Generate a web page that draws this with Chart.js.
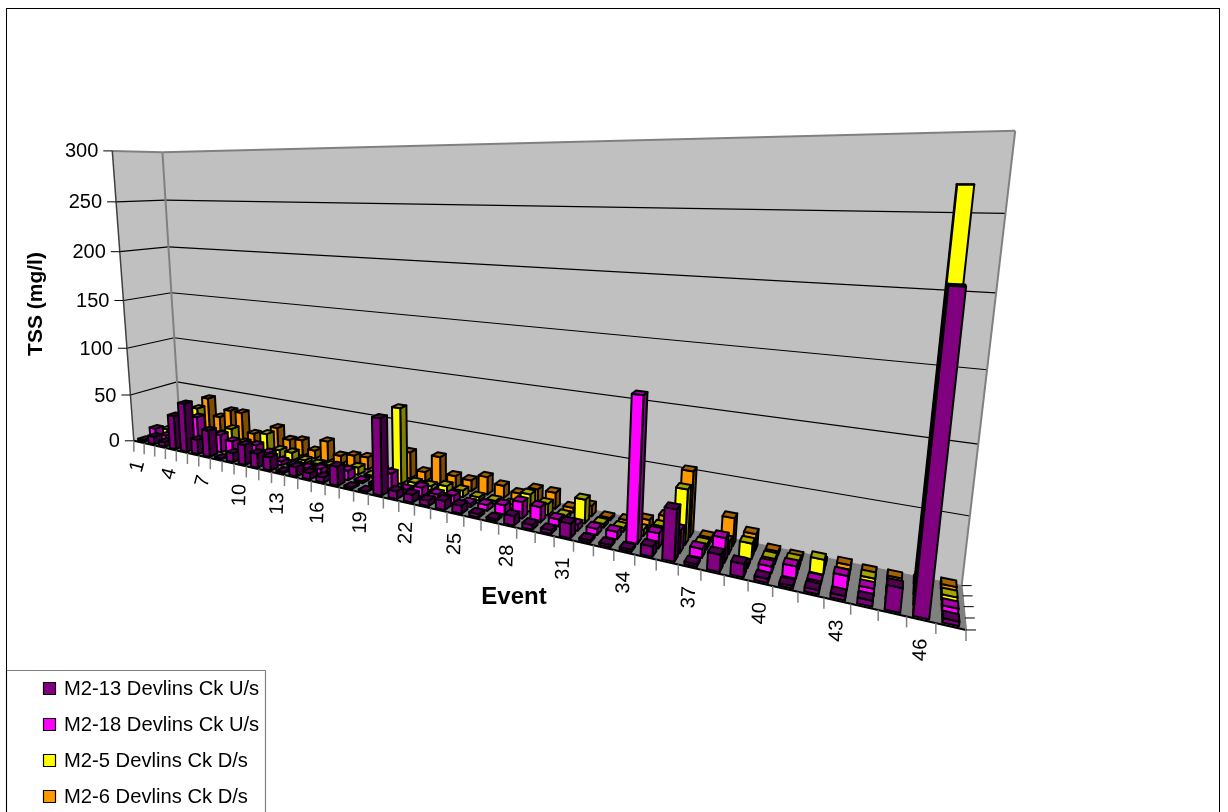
<!DOCTYPE html>
<html><head><meta charset="utf-8">
<style>html,body{margin:0;padding:0;background:#fff;overflow:hidden}canvas{display:block}</style>
<script src="https://cdn.jsdelivr.net/npm/chart.js@4"></script>
</head><body><canvas id="c" width="1228" height="812"></canvas>
<script>
const events = Array.from({length:47},(_,i)=>String(i+1));
const m213 = [2,8,5,35,50,15,27,1,9,20,14,13,1.5,9,6,5,18,1.5,1,70,7,7,5,8,7,3,2,8,4,3,12,2,2,2,8,40,2,13,10,3,2,3,3,4,17,210,3];
const m218 = [10,5,3,15,32,10,18,14,5,15,10,4,3,3,5,3,9,2,2,15,3,8,5,7,3,5,8,14,13,6,5,5,6,116,12,18,7,19,2,5,9,2,10,5,3,3,4];
const m25  = [5,2,3,35,10,12,20,8,4,22,8,8,3,2,3,2,7,2,2,71,4,4,7,6,3,3,3,15,10,3,20,3,3,5,11,44,4,10,12,4,6,11,3,5,1,268,4];
const m26  = [2,2,3,42,24,33,33,13,5,24,14,16,8,20,8,11,12,3,4,25,9,26,11,10,16,11,7,14,14,4,9,2,3,7,13,53,3,22,13,3,2,2,4,2,2,2,4];
const seriesNames = ['M2-13 Devlins Ck U/s','M2-18 Devlins Ck U/s','M2-5 Devlins Ck D/s','M2-6 Devlins Ck D/s'];
const seriesColors = ['#800080','#FF00FF','#FFFF00','#FF9900'];
const yTitle = 'TSS (mg/l)';
const xTitle = 'Event';

// camera calibration: (u along events, v into depth, h up) -> screen
const calib = [
 [0,0,0,133,439],[0,0,1,112,152],[0,1,0,179,425],[0,1,1,163,155],
 [1,1,0,962,587],[1,1,1,1016,129],[1,1,1,1016,129],[1,0,0,964,632],
 [24/47,0,0,459,515],[12/47,0,0,269,471],[36/47,0,0,673,564],
 [0,1,.5,172,292],[1,1,.5,985,370],[1,1,5/6,1005,212],[0,0,.5,122,299]
];
function solveCamera(pts){
  const n=11,A=Array.from({length:n},()=>new Array(n+1).fill(0));
  const add=(r,b)=>{for(let i=0;i<n;i++){for(let j=0;j<n;j++)A[i][j]+=r[i]*r[j];A[i][n]+=r[i]*b;}};
  pts.forEach(([u,v,h,x,y])=>{x/=1000;y/=1000;
    add([u,v,h,1,0,0,0,0,-x*u,-x*v,-x*h],x);
    add([0,0,0,0,u,v,h,1,-y*u,-y*v,-y*h],y);});
  for(let i=0;i<n;i++){let p=i;for(let k=i+1;k<n;k++)if(Math.abs(A[k][i])>Math.abs(A[p][i]))p=k;
    [A[i],A[p]]=[A[p],A[i]];
    for(let k=0;k<n;k++){if(k===i)continue;const f=A[k][i]/A[i][i];for(let j=i;j<=n;j++)A[k][j]-=f*A[i][j];}}
  return A.map((r,i)=>r[n]/r[i]);
}
const P=solveCamera(calib);
const depthW=(u,v,h)=>P[8]*u+P[9]*v+P[10]*h+1;
const proj=(u,v,h)=>{const w=depthW(u,v,h);return [1000*(P[0]*u+P[1]*v+P[2]*h+P[3])/w,1000*(P[4]*u+P[5]*v+P[6]*h+P[7])/w];};

function shade(hex,f){const n=parseInt(hex.slice(1),16);const c=[n>>16,(n>>8)&255,n&255].map(x=>Math.round(x*f));return `rgb(${c})`;}
function poly(ctx,pts,fill,stroke,lw){ctx.beginPath();pts.forEach((p,i)=>i?ctx.lineTo(p[0],p[1]):ctx.moveTo(p[0],p[1]));ctx.closePath();
  if(fill){ctx.fillStyle=fill;ctx.fill();}
  if(stroke){ctx.strokeStyle=stroke;ctx.lineWidth=lw;ctx.lineJoin='round';ctx.stroke();}}
function seg(ctx,a,b,col,lw){ctx.beginPath();ctx.moveTo(a[0],a[1]);ctx.lineTo(b[0],b[1]);ctx.strokeStyle=col;ctx.lineWidth=lw;ctx.stroke();}
const area=pts=>{let s=0;pts.forEach((p,i)=>{const q=pts[(i+1)%pts.length];s+=p[0]*q[1]-q[0]*p[1];});return s;};
const FONT='"Liberation Sans", Arial, sans-serif';

const scene={id:'scene',
 beforeDatasetsDraw(chart){
  const ctx=chart.ctx,xS=chart.scales.x,yS=chart.scales.y;
  const hOf=px=>(yS.bottom-px)/(yS.bottom-yS.top);
  const uOf=px=>(px-xS.left)/(xS.right-xS.left);
  ctx.save();
  // page frame
  ctx.fillStyle='#fff';ctx.fillRect(0,0,1228,812);
  ctx.strokeStyle='#000';ctx.lineWidth=1;ctx.strokeRect(6.5,8.5,1213,820);
  // walls and floor
  poly(ctx,[proj(0,0,0),proj(0,1,0),proj(0,1,1),proj(0,0,1)],'#C0C0C0');
  poly(ctx,[proj(0,1,0),proj(1,1,0),proj(1,1,1),proj(0,1,1)],'#C0C0C0');
  poly(ctx,[proj(0,0,0),proj(1,0,0),proj(1,1,0),proj(0,1,0)],'#808080');
  // gridlines from the value scale
  const ticks=yS.ticks.map(t=>t.value);
  ticks.forEach(t=>{const h=hOf(yS.getPixelForValue(t));
    if(t===0||t===300)return;
    seg(ctx,proj(0,0,h),proj(0,1,h),'#000',1.2);seg(ctx,proj(0,1,h),proj(1,1,h),'#000',1.2);});
  // wall edges
  seg(ctx,proj(0,0,1),proj(0,1,1),'#808080',2);seg(ctx,proj(0,1,1),proj(1,1,1),'#808080',2);
  seg(ctx,proj(0,1,0),proj(0,1,1),'#808080',2);seg(ctx,proj(1,1,0),proj(1,1,1),'#808080',2);
  seg(ctx,proj(0,0,0),proj(0,0,1),'#404040',1.5);
  seg(ctx,proj(0,1,0),proj(1,1,0),'#808080',1);
  seg(ctx,proj(0,0,0),proj(1,0,0),'#000',2);
  seg(ctx,proj(1,0,0),proj(1,1,0),'#808080',2);
  // value axis
  ctx.font='20px '+FONT;ctx.fillStyle='#000';ctx.textAlign='right';ctx.textBaseline='middle';
  ticks.forEach(t=>{const h=hOf(yS.getPixelForValue(t));const p=proj(0,0,h);
    seg(ctx,[p[0]-9,p[1]],p,'#000',1);
    ctx.fillStyle='#000';ctx.fillText(String(t),p[0]-14,p[1]+1);});
  // event axis ticks and labels
  const nE=chart.data.labels.length;
  for(let i=0;i<=nE;i++){const p=proj(i/nE,0,0);seg(ctx,p,[p[0],p[1]+11],'#808080',1.5);}
  chart.data.labels.forEach((lab,i)=>{ if(i%3)return;
    const p=proj(uOf(xS.getPixelForValue(i)),0,0);
    ctx.save();ctx.translate(p[0],p[1]+19);ctx.rotate((i<9?-75:-88)*Math.PI/180);
    ctx.textAlign='right';ctx.textBaseline='middle';ctx.fillStyle='#000';ctx.fillText(lab,0,0);ctx.restore();});
  // depth axis ticks
  const nS=chart.data.datasets.length;
  for(let k=0;k<=nS;k++){const p=proj(1,k/nS,0);seg(ctx,p,[p[0]+10,p[1]],'#000',1);}
  // bars, back series first, far bars first
  const halfD=0.65/(2*nS);
  for(let s=nS-1;s>=0;s--){
    const meta=chart.getDatasetMeta(s),col=chart.data.datasets[s].backgroundColor;
    const vc=(s+.5)/nS,v0=vc-halfD,v1=vc+halfD;
    const bars=meta.data.map(el=>({u0:uOf(el.x-el.width/2),u1:uOf(el.x+el.width/2),h0:hOf(el.base),h1:hOf(el.y)}));
    bars.sort((a,b)=>depthW(b.u0,vc,0)-depthW(a.u0,vc,0));
    bars.forEach(({u0,u1,h0,h1})=>{
      const faces=[
       [[[u1,v1,h0],[u0,v1,h0],[u0,v1,h1],[u1,v1,h1]],.5],
       [[[u0,v1,h0],[u0,v0,h0],[u0,v0,h1],[u0,v1,h1]],.5],
       [[[u1,v0,h0],[u1,v1,h0],[u1,v1,h1],[u1,v0,h1]],.5],
       [[[u0,v0,h0],[u1,v0,h0],[u1,v0,h1],[u0,v0,h1]],1],
       [[[u0,v0,h1],[u1,v0,h1],[u1,v1,h1],[u0,v1,h1]],.65]];
      faces.forEach(([f,k])=>{const q=f.map(c=>proj(c[0],c[1],c[2]));
        if(area(q)<0)poly(ctx,q,shade(col,k),'#000',2);});
    });
  }
  // axis titles
  ctx.fillStyle='#000';ctx.textBaseline='middle';ctx.textAlign='center';
  ctx.font='bold 24px '+FONT;ctx.fillText(xTitle,514,597);
  ctx.save();ctx.translate(36,304);ctx.rotate(-Math.PI/2);ctx.font='bold 21px '+FONT;ctx.fillText(yTitle,0,0);ctx.restore();
  // legend box
  ctx.fillStyle='#fff';ctx.fillRect(6,670,259,150);
  ctx.strokeStyle='#808080';ctx.lineWidth=1.2;ctx.strokeRect(6.5,670.5,259,150);
  seg(ctx,[6.5,670],[6.5,812],'#000',1);
  ctx.font='20.2px '+FONT;ctx.textAlign='left';
  chart.data.datasets.forEach((d,i)=>{const yc=688+36*i;
    ctx.fillStyle=d.backgroundColor;ctx.fillRect(43.5,yc-5.5,12,12);
    ctx.strokeStyle='#000';ctx.lineWidth=1.2;ctx.strokeRect(43.5,yc-5.5,12,12);
    ctx.fillStyle='#000';ctx.fillText(d.label,64,yc+1.5);});
  ctx.restore();
  return false;
 }};

new Chart(document.getElementById('c'),{
  type:'bar',
  data:{labels:events,datasets:[m213,m218,m25,m26].map((data,i)=>({label:seriesNames[i],data,backgroundColor:seriesColors[i],borderColor:'#000',borderWidth:1,categoryPercentage:1,barPercentage:.55}))},
  options:{responsive:false,animation:false,devicePixelRatio:1,
    layout:{padding:0},
    plugins:{legend:{display:false},tooltip:{enabled:false},title:{display:false}},
    scales:{
      x:{display:false,stacked:true},
      y:{display:false,stacked:false,min:0,max:300,ticks:{stepSize:50}}
    }},
  plugins:[scene]
});
</script></body></html>
